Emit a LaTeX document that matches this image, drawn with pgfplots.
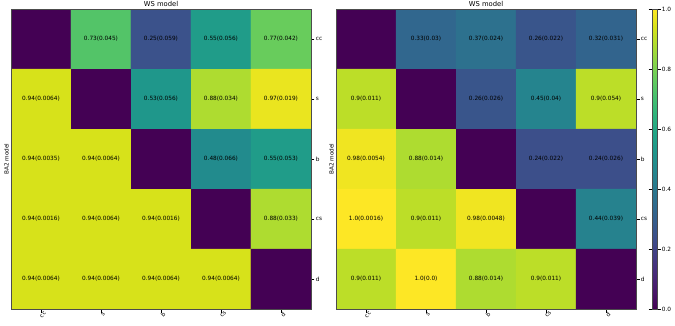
\documentclass[border=0pt]{standalone}
\usepackage{pgfplots}
\usepackage{pgfplotstable}
\pgfplotsset{compat=1.18}
\usepackage{fontspec}
\setmainfont{DejaVu Sans}

% x = WS column, y = BA2 row, c = colour value, t = cell text
\pgfplotstableread{
x y c t
0 0 0 {}
1 0 0.73 0.73(0.045)
2 0 0.25 0.25(0.059)
3 0 0.55 0.55(0.056)
4 0 0.77 0.77(0.042)
0 1 0.94 0.94(0.0064)
1 1 0 {}
2 1 0.53 0.53(0.056)
3 1 0.88 0.88(0.034)
4 1 0.97 0.97(0.019)
0 2 0.94 0.94(0.0035)
1 2 0.94 0.94(0.0064)
2 2 0 {}
3 2 0.48 0.48(0.066)
4 2 0.55 0.55(0.053)
0 3 0.94 0.94(0.0016)
1 3 0.94 0.94(0.0064)
2 3 0.94 0.94(0.0016)
3 3 0 {}
4 3 0.88 0.88(0.033)
0 4 0.94 0.94(0.0064)
1 4 0.94 0.94(0.0064)
2 4 0.94 0.94(0.0064)
3 4 0.94 0.94(0.0064)
4 4 0 {}
}\tableA

\pgfplotstableread{
x y c t
0 0 0 {}
1 0 0.33 0.33(0.03)
2 0 0.37 0.37(0.024)
3 0 0.26 0.26(0.022)
4 0 0.32 0.32(0.031)
0 1 0.90 0.9(0.011)
1 1 0 {}
2 1 0.26 0.26(0.026)
3 1 0.45 0.45(0.04)
4 1 0.90 0.9(0.054)
0 2 0.98 0.98(0.0054)
1 2 0.88 0.88(0.014)
2 2 0 {}
3 2 0.24 0.24(0.022)
4 2 0.24 0.24(0.026)
0 3 1.00 1.0(0.0016)
1 3 0.90 0.9(0.011)
2 3 0.98 0.98(0.0048)
3 3 0 {}
4 3 0.44 0.44(0.039)
0 4 0.90 0.9(0.011)
1 4 1.00 1.0(0.0)
2 4 0.88 0.88(0.014)
3 4 0.90 0.9(0.011)
4 4 0 {}
}\tableB

\pgfplotsset{
  hm/.style={
    scale only axis, width=300pt, height=300pt,
    anchor=south west,
    xmin=-0.5, xmax=4.5, ymin=-0.5, ymax=4.5, y dir=reverse,
    colormap/viridis, point meta min=0, point meta max=1,
    xtick={0,1,2,3,4}, ytick={0,1,2,3,4},
    xticklabels={cc,s,b,cs,d}, yticklabels={cc,s,b,cs,d},
    xtick pos=bottom, ytick pos=right, yticklabel pos=right,
    tick align=outside, major tick length=3.5pt,
    tick style={black, line width=0.6pt},
    axis line style={black!70, line width=0.6pt},
    ticklabel style={font=\fontsize{5.8}{7}\selectfont, inner sep=1.2pt},
    xticklabel style={rotate=45, anchor=center, yshift=-3pt},
    title={WS model},
    title style={font=\fontsize{6.8}{8}\selectfont, yshift=-7pt},
    ylabel={BA2 model},
    ylabel style={at={(axis description cs:0,0.5)}, anchor=south,
      font=\fontsize{5.7}{7}\selectfont, inner sep=2.2pt},
    axis on top,
  },
  celltext/.style={only marks, mark=none,
    point meta=explicit symbolic,
    nodes near coords={\pgfplotspointmeta},
    every node near coord/.append style={anchor=center,
      font=\fontsize{5.8}{7}\selectfont, text=black}},
}

\begin{document}
\begin{tikzpicture}
\useasboundingbox (0,0) rectangle (675pt,325pt);

\begin{axis}[hm, at={(11pt,16pt)}]
  \addplot[matrix plot*, mesh/cols=5, point meta=explicit]
    table[x=x, y=y, meta=c] {\tableA};
  \addplot[celltext] table[x=x, y=y, meta=t] {\tableA};
\end{axis}

\begin{axis}[hm, at={(336pt,16pt)},
  colorbar,
  colorbar style={
    at={(parent axis.north east)}, anchor=north west, xshift=7.5pt,
    width=5pt,
    ytick={0,0.2,0.4,0.6,0.8,1},
    yticklabel style={font=\fontsize{5.8}{7}\selectfont, inner sep=1.2pt,
      /pgf/number format/.cd, fixed, fixed zerofill, precision=1,
      assume math mode=true},
    tick align=outside, major tick length=3.5pt,
    tick style={black, line width=0.6pt},
    axis line style={black!70, line width=0.6pt},
  }]
  \addplot[matrix plot*, mesh/cols=5, point meta=explicit]
    table[x=x, y=y, meta=c] {\tableB};
  \addplot[celltext] table[x=x, y=y, meta=t] {\tableB};
\end{axis}
\end{tikzpicture}
\end{document}
